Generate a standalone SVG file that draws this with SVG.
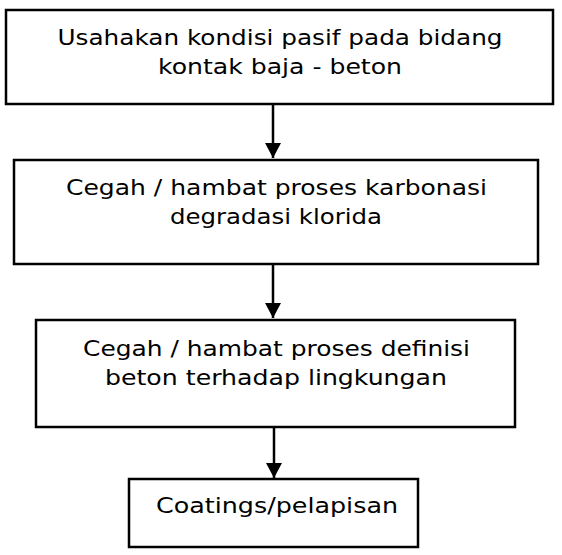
<svg xmlns="http://www.w3.org/2000/svg" width="562" height="555" viewBox="0 0 562 555">
  <defs>
    <marker id="arrow" markerWidth="15" markerHeight="16" refX="15" refY="8" orient="auto" markerUnits="userSpaceOnUse">
      <path d="M0,0 L15,8 L0,16 Z" fill="#000"/>
    </marker>
    <style>
      .box { fill: #fff; stroke: #000; stroke-width: 2.5; }
      .lbl { font-family: "DejaVu Sans", "Liberation Sans", sans-serif; font-size: 21px; fill: #000; text-anchor: middle; }
      .conn { stroke: #000; stroke-width: 2.5; fill: none; marker-end: url(#arrow); }
    </style>
  </defs>
  <rect width="562" height="555" fill="#fff"/>

  <g id="connectors">
    <line class="conn" x1="273" y1="104" x2="273" y2="158"/>
    <line class="conn" x1="273" y1="264" x2="273" y2="318"/>
    <line class="conn" x1="274" y1="427" x2="274" y2="478"/>
  </g>

  <g id="node1">
    <rect class="box" x="6" y="10" width="547" height="94"/>
    <text class="lbl" x="280" y="45" textLength="445" lengthAdjust="spacingAndGlyphs">Usahakan kondisi pasif pada bidang</text>
    <text class="lbl" x="280" y="74" textLength="244" lengthAdjust="spacingAndGlyphs">kontak baja - beton</text>
  </g>

  <g id="node2">
    <rect class="box" x="14" y="160" width="524" height="104"/>
    <text class="lbl" x="276.5" y="195" textLength="421" lengthAdjust="spacingAndGlyphs">Cegah / hambat proses karbonasi</text>
    <text class="lbl" x="276" y="224" textLength="212" lengthAdjust="spacingAndGlyphs">degradasi klorida</text>
  </g>

  <g id="node3">
    <rect class="box" x="36" y="320" width="479" height="107"/>
    <text class="lbl" x="276.5" y="356" textLength="387" lengthAdjust="spacingAndGlyphs">Cegah / hambat proses definisi</text>
    <text class="lbl" x="276" y="385" textLength="342" lengthAdjust="spacingAndGlyphs">beton terhadap lingkungan</text>
  </g>

  <g id="node4">
    <rect class="box" x="129" y="479" width="289" height="68"/>
    <text class="lbl" x="277" y="513" textLength="242" lengthAdjust="spacingAndGlyphs">Coatings/pelapisan</text>
  </g>
</svg>
